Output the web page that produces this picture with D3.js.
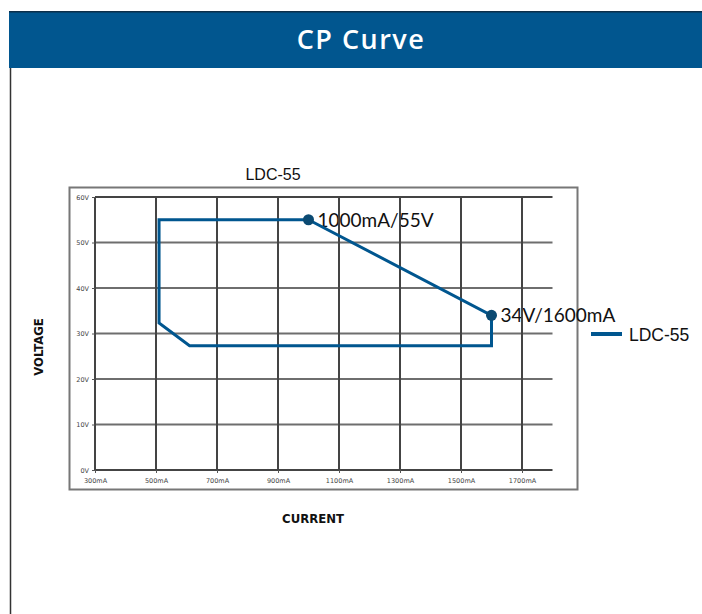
<!DOCTYPE html>
<html>
<head>
<meta charset="utf-8">
<script src="https://cdn.jsdelivr.net/npm/d3@7"></script>
<style>
  html, body { margin: 0; padding: 0; background: #fff; }
  svg { display: block; }
</style>
</head>
<body>
<svg id="chart" width="702" height="614"></svg>
<script>
// Chart content
const pageTitle = "CP Curve";
const seriesName = "LDC-55";
const xTicks = [300, 500, 700, 900, 1100, 1300, 1500, 1700];
const yTicks = [0, 10, 20, 30, 40, 50, 60];
const xTickLabels = ["300mA", "500mA", "700mA", "900mA", "1100mA", "1300mA", "1500mA", "1700mA"];
const yTickLabels = ["0V", "10V", "20V", "30V", "40V", "50V", "60V"];
// Operating window outline: current (mA), voltage (V)
const currents = [1000, 510, 510, 610, 1600, 1600, 1000];
const voltages = [55, 55, 32.3, 27.3, 27.3, 34, 55];
// Labelled corner points
const markCurrents = [1000, 1600];
const markVoltages = [55, 34];
const markLabels = ["1000mA/55V", "34V/1600mA"];
const xTitle = "CURRENT";
const yTitle = "VOLTAGE";

const blue = "#00568f";
const svg = d3.select("#chart");

// Header banner
svg.append("line").attr("x1", 10.5).attr("x2", 10.5).attr("y1", 60).attr("y2", 614)
  .attr("stroke", "#333").attr("stroke-width", 1.5);
svg.append("rect").attr("x", 9).attr("y", 11).attr("width", 693).attr("height", 57).attr("fill", "#01568f");
svg.append("rect").attr("x", 9).attr("y", 11).attr("width", 693).attr("height", 1.5).attr("fill", "#0c2f4a");
svg.append("text").attr("x", 361).attr("y", 49).attr("text-anchor", "middle")
  .attr("fill", "#fff").attr("font-family", "'Open Sans', 'Noto Sans', sans-serif")
  .attr("font-weight", 600).attr("font-size", 27).attr("letter-spacing", 1.5).text(pageTitle);

// Chart frame
svg.append("rect").attr("x", 69.5).attr("y", 187.5).attr("width", 508).attr("height", 302)
  .attr("fill", "none").attr("stroke", "#777").attr("stroke-width", 2);

svg.append("text").attr("x", 273).attr("y", 180).attr("text-anchor", "middle")
  .attr("font-family", "'Liberation Sans', Arial, sans-serif").attr("font-size", 16)
  .attr("fill", "#111").text(seriesName);

const x = d3.scaleLinear().domain([300, 1800]).range([95, 552.5]);
const y = d3.scaleLinear().domain([0, 60]).range([470, 197]);

// Point labels sit under the grid
const marks = markCurrents.map((c, i) => ({ c, v: markVoltages[i], label: markLabels[i] }));
svg.append("g").selectAll("text").data(marks).join("text")
  .attr("x", d => x(d.c) + 9)
  .attr("y", d => y(d.v) + 7)
  .attr("font-family", "Lato, 'Open Sans', sans-serif").attr("font-size", 19)
  .attr("fill", "#111").text(d => d.label);

// Grid
const grid = svg.append("g");
grid.selectAll("line.h").data(yTicks).join("line").attr("class", "h")
  .attr("x1", x(300)).attr("x2", x(1800))
  .attr("y1", d => y(d)).attr("y2", d => y(d))
  .attr("stroke", d => (d === 0 || d === 60) ? "#444" : "#6e6e6e").attr("stroke-width", 2);
grid.selectAll("line.v").data(xTicks).join("line").attr("class", "v")
  .attr("x1", d => x(d)).attr("x2", d => x(d))
  .attr("y1", y(0)).attr("y2", y(60))
  .attr("stroke", "#444").attr("stroke-width", 2);

// Axes with small ticks
const xAxis = d3.axisBottom(x).tickValues(xTicks).tickSize(3).tickPadding(5)
  .tickFormat((d, i) => xTickLabels[i]);
const yAxis = d3.axisLeft(y).tickValues(yTicks).tickSize(3).tickPadding(3)
  .tickFormat((d, i) => yTickLabels[i]);
const gx = svg.append("g").attr("transform", `translate(0,${y(0)})`).call(xAxis);
const gy = svg.append("g").attr("transform", `translate(${x(300)},0)`).call(yAxis);
[gx, gy].forEach(g => {
  g.select(".domain").remove();
  g.selectAll(".tick line").attr("stroke", "#555").attr("stroke-width", 1);
  g.selectAll(".tick text").attr("font-family", "'DejaVu Sans', sans-serif")
    .attr("font-size", 6.5).attr("fill", "#444");
});

// Curve
const pts = currents.map((c, i) => [x(c), y(voltages[i])]);
svg.append("path").attr("d", d3.line()(pts))
  .attr("fill", "none").attr("stroke", blue).attr("stroke-width", 3)
  .attr("stroke-linejoin", "miter");
svg.append("g").selectAll("circle").data(marks).join("circle")
  .attr("cx", d => x(d.c)).attr("cy", d => y(d.v)).attr("r", 5.5).attr("fill", "#0b4a72");

// Axis titles
svg.append("text").attr("x", 313).attr("y", 523).attr("text-anchor", "middle")
  .attr("font-family", "'Liberation Sans Narrow', 'DejaVu Sans Condensed', Arial, sans-serif")
  .attr("font-weight", "bold").attr("font-size", 13).attr("fill", "#111").text(xTitle);
svg.append("text").attr("transform", "translate(43,347) rotate(-90)").attr("text-anchor", "middle")
  .attr("font-family", "'Liberation Sans Narrow', 'DejaVu Sans Condensed', Arial, sans-serif")
  .attr("font-weight", "bold").attr("font-size", 13).attr("fill", "#111").text(yTitle);

// Legend
svg.append("line").attr("x1", 591).attr("x2", 622).attr("y1", 334).attr("y2", 334)
  .attr("stroke", blue).attr("stroke-width", 4);
svg.append("text").attr("x", 629).attr("y", 341)
  .attr("font-family", "'Liberation Sans', Arial, sans-serif").attr("font-size", 17.5)
  .attr("fill", "#111").text(seriesName);
</script>
</body>
</html>
